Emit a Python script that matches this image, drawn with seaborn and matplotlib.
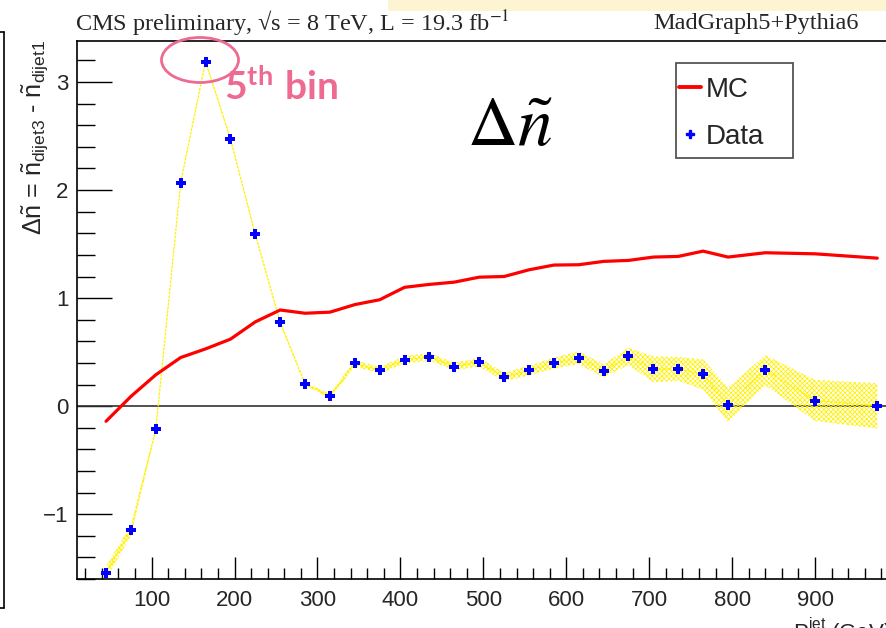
import matplotlib
matplotlib.use('Agg')
import matplotlib.pyplot as plt
import matplotlib.patches as mpatches
from matplotlib.lines import Line2D
from matplotlib.ticker import MultipleLocator
import pandas as pd
import seaborn as sns

OUTPUT_FILEPATH = 'out.png'

# bin centres (GeV) and values
pt_bins = [45, 75, 105, 135, 165, 195, 225, 255, 285, 315, 345, 375, 405, 435, 465,
           495, 525, 555, 585, 615, 645, 675, 705, 735, 765, 795, 840, 900, 975]
mc_values = [-0.14, 0.09, 0.29, 0.45, 0.53, 0.62, 0.78, 0.89, 0.86, 0.87, 0.94, 0.985,
             1.10, 1.127, 1.148, 1.194, 1.20, 1.262, 1.306, 1.309, 1.34, 1.349, 1.38,
             1.386, 1.435, 1.38, 1.42, 1.41, 1.37]
data_values = [-1.54, -1.15, -0.216, 2.07, 3.19, 2.475, 1.59, 0.775, 0.207, 0.093, 0.395,
               0.333, 0.429, 0.457, 0.367, 0.407, 0.269, 0.330, 0.398, 0.448, 0.327, 0.460,
               0.340, 0.346, 0.293, 0.012, 0.333, 0.052, 0.003]
data_errors = [0.06, 0.05, 0.015, 0.01, 0.01, 0.01, 0.01, 0.01, 0.015, 0.02, 0.03, 0.03,
               0.035, 0.035, 0.035, 0.04, 0.04, 0.045, 0.05, 0.06, 0.06, 0.08, 0.12, 0.11,
               0.14, 0.16, 0.14, 0.19, 0.21]

legend_labels = ['MC', 'Data']
pink = '#EE6A90'

sns.set_theme(style='white')
plt.rcParams['font.family'] = ['Liberation Sans', 'DejaVu Sans']
plt.rcParams['mathtext.fontset'] = 'custom'
plt.rcParams['mathtext.rm'] = 'Liberation Sans'
plt.rcParams['mathtext.it'] = 'Liberation Sans:italic'
plt.rcParams['mathtext.bf'] = 'Lato:bold'
plt.rcParams['hatch.linewidth'] = 0.6


def main():
    df = pd.DataFrame({'pt': pt_bins, 'mc': mc_values, 'data': data_values, 'err': data_errors})
    df['lo'] = df['data'] - df['err']
    df['hi'] = df['data'] + df['err']

    fig = plt.figure(figsize=(8.86, 6.28), dpi=100)
    # pale strip at the top of the slide
    fig.add_artist(mpatches.Rectangle((388 / 886, 1 - 11 / 628), 498 / 886, 11 / 628,
                                      transform=fig.transFigure, facecolor='#FDF4D2',
                                      edgecolor='none', zorder=0))
    ax = fig.add_axes([77 / 886, 1 - 579 / 628, 821 / 886, 538 / 628])

    # yellow error band + thin line
    ax.fill_between(df['pt'], df['lo'], df['hi'], facecolor='none', edgecolor='#FFF200',
                    hatch='xxxxxxx', linewidth=0, zorder=2)
    sns.lineplot(data=df, x='pt', y='data', ax=ax, color='#FFF200', linewidth=0.9,
                 linestyle=(0, (2, 1)), zorder=2)
    ax.axhline(0, color='#333333', linewidth=1.2, zorder=1)

    sns.lineplot(data=df, x='pt', y='mc', ax=ax, color='#FF0000', linewidth=2.3, zorder=3)
    sns.scatterplot(data=df, x='pt', y='data', ax=ax, color='#0000FF', marker='P',
                    s=55, linewidth=0, zorder=4)

    ax.set_xlim(10, 1000)
    ax.set_ylim(-1.6, 3.38)
    ax.xaxis.set_major_locator(MultipleLocator(100))
    ax.xaxis.set_minor_locator(MultipleLocator(20))
    ax.yaxis.set_major_locator(MultipleLocator(1))
    ax.yaxis.set_minor_locator(MultipleLocator(0.2))
    ax.set_xticks([100, 200, 300, 400, 500, 600, 700, 800, 900])
    ax.tick_params(axis='both', which='both', direction='in', color='black', labelsize=16,
                   bottom=True, left=True, top=False, right=False)
    ax.tick_params(axis='y', which='major', length=25, width=1, pad=6)
    ax.tick_params(axis='y', which='minor', length=13, width=1)
    ax.tick_params(axis='x', which='major', length=16, width=1, pad=8)
    ax.tick_params(axis='x', which='minor', length=8, width=1)
    for side in ['left', 'bottom', 'top']:
        ax.spines[side].set_color('black')
        ax.spines[side].set_linewidth(1.2)
    ax.spines['right'].set_visible(False)

    ax.set_xlabel('')
    ax.set_ylabel(r'$\Delta\tilde{\mathrm{n}}$ = $\tilde{\mathrm{n}}_{\mathrm{dijet3}}$ - '
                  r'$\tilde{\mathrm{n}}_{\mathrm{dijet1}}$', fontsize=18)
    ax.yaxis.set_label_coords(-0.033, 0.82)

    # legend with a plain ROOT-like box
    box = mpatches.Rectangle((676 / 886, 1 - 158 / 628), 117 / 886, 95 / 628,
                             transform=fig.transFigure, facecolor='white',
                             edgecolor='#555555', linewidth=1.3, zorder=5, clip_on=False)
    ax.add_patch(box)
    handles = [Line2D([], [], color='#FF0000', linewidth=2.8),
               Line2D([], [], color='#0000FF', marker='P', markersize=6, linestyle='none')]
    leg = ax.legend(handles, legend_labels, loc='upper left',
                    bbox_to_anchor=(679 / 886, 1 - 77 / 628), bbox_transform=fig.transFigure,
                    frameon=False, fontsize=20, handlelength=0.8, handletextpad=0.15,
                    labelspacing=0.75, borderpad=0, borderaxespad=0)
    leg.set_zorder(6)

    # big label and 5th bin annotation
    fig.text(510 / 886, 1 - 128 / 628, r'$\Delta\tilde{n}$', fontsize=50,
             math_fontfamily='stix', ha='center', va='center', color='black')
    fig.text(224 / 886, 1 - 89 / 628, r'$\mathbf{5^{th}\ bin}$', fontsize=28,
             color=pink, ha='left', va='center')
    fig.add_artist(mpatches.Ellipse((2.00, 6.28 - 0.60), 0.77, 0.45,
                                    transform=fig.dpi_scale_trans, fill=False,
                                    edgecolor=pink, linewidth=2))

    # header texts
    fig.text(75 / 886, 1 - 24 / 628, r'CMS preliminary, √s = 8 TeV, L = 19.3 fb$^{-1}$',
             family=['Liberation Serif', 'DejaVu Serif'], math_fontfamily='stix',
             fontsize=17.5, ha='left', va='center')
    fig.text(859 / 886, 1 - 24 / 628, 'MadGraph5+Pythia6',
             family=['Liberation Serif', 'DejaVu Serif'], fontsize=17.5, ha='right', va='center')

    # partially visible x title
    fig.text(793 / 886, 1 - 615 / 628, r'P$_{\mathrm{T}}^{\mathrm{jet}}$ (GeV)',
             fontsize=16, ha='left', va='top')

    # edge of neighbouring frame on the left
    fig.add_artist(Line2D([4 / 886, 4 / 886], [1 - 32 / 628, 1 - 608 / 628],
                          transform=fig.transFigure, color='black', linewidth=1.2))
    fig.add_artist(Line2D([0, 4 / 886], [1 - 32 / 628, 1 - 32 / 628],
                          transform=fig.transFigure, color='black', linewidth=1.2))
    fig.add_artist(Line2D([0, 4 / 886], [1 - 608 / 628, 1 - 608 / 628],
                          transform=fig.transFigure, color='black', linewidth=1.2))

    fig.savefig(OUTPUT_FILEPATH, dpi=100)


if __name__ == '__main__':
    main()
